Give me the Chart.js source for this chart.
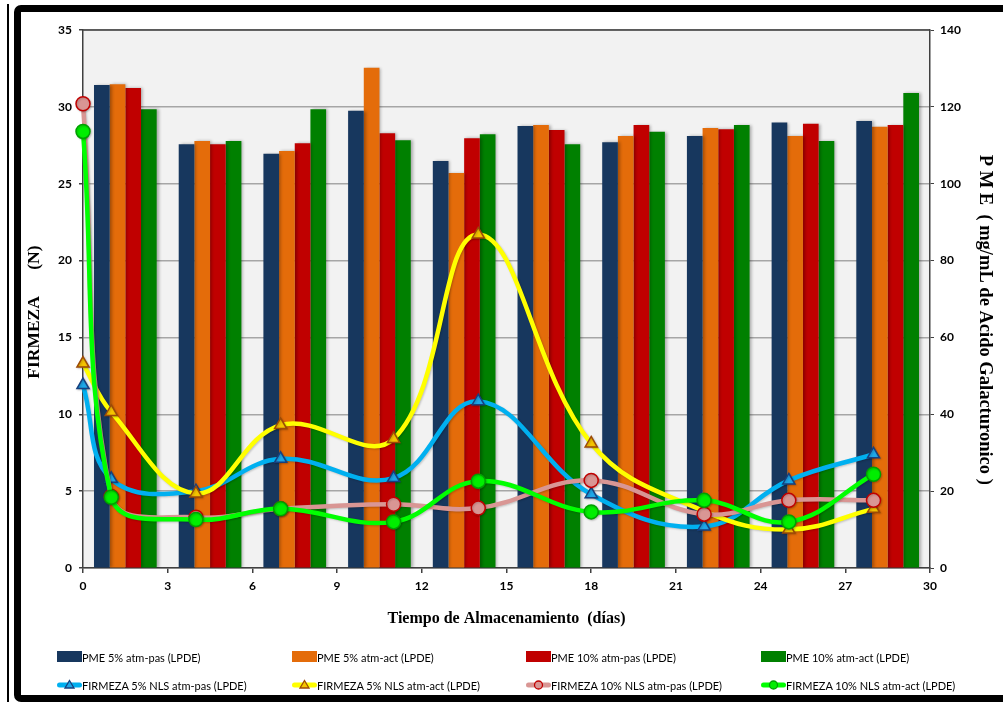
<!DOCTYPE html>
<html lang="es">
<head>
<meta charset="utf-8">
<title>Firmeza y PME</title>
<script src="https://cdn.jsdelivr.net/npm/chart.js@4.4.1/dist/chart.umd.min.js"></script>
<style>
  body { margin: 0; background: #fff; }
  #hoja { position: relative; width: 1003px; height: 702px; overflow: hidden; }
  #linea { position: absolute; left: 7px; top: 4px; width: 2px; height: 698px; background: #000; }
  #marco { position: absolute; left: 14px; top: 5px; width: 1010px; height: 683px;
           border: 7px solid #000; border-radius: 7px; }
  canvas { position: absolute; left: 0; top: 0; }
  .item { position: absolute; display: flex; align-items: center; height: 16px;
          font-family: Lato, sans-serif; font-size: 11px; color: #000; white-space: nowrap; }
  .item svg { display: block; }
</style>
</head>
<body>
<div id="hoja">
  <div id="linea"></div>
  <div id="marco"></div>
  <canvas id="barras" width="1003" height="702"></canvas>
  <canvas id="lineas" width="1003" height="702"></canvas>
  <div id="leyenda"></div>
</div>
<script>
// dias de muestreo (firmeza) y grupos de barras (PME)
const dias = [0, 1, 4, 7, 11, 14, 18, 22, 25, 28];
const muestreos = ['1', '2', '3', '4', '5', '6', '7', '8', '9', '10'];

// PME (mg/mL de acido galacturonico)
const pme5Pas  = [125.7, 110.3, 107.8, 119.0, 105.9, 115.0, 110.8, 112.4, 115.9, 116.3];
const pme5Act  = [125.9, 111.1, 108.5, 130.2, 102.8, 115.3, 112.4, 114.5, 112.4, 114.8];
const pme10Pas = [124.9, 110.3, 110.5, 113.1, 111.8, 114.0, 115.3, 114.2, 115.6, 115.3];
const pme10Act = [119.4, 111.1, 119.4, 111.3, 112.9, 110.3, 113.5, 115.3, 111.1, 123.6];

// Firmeza (N)
const fir5Pas  = [11.9, 5.8, 5.0, 7.1, 5.85, 10.85, 4.8, 2.7, 5.7, 7.4];
const fir5Act  = [13.3, 10.15, 4.85, 9.3, 8.4, 21.7, 8.1, 3.7, 2.5, 3.85];
const fir10Pas = [30.2, 4.65, 3.3, 3.85, 4.15, 3.9, 5.7, 3.5, 4.4, 4.4];
const fir10Act = [28.4, 4.6, 3.15, 3.85, 3.0, 5.65, 3.65, 4.4, 3.0, 6.1];

const fuenteEje = { family: 'Lato', size: 12, weight: 'bold' };
const fuenteTituloX = { family: 'Liberation Serif', size: 16, weight: 'bold' };
const fuenteTituloIzq = { family: 'Liberation Serif', size: 17.5, weight: 'bold' };
const fuenteTituloDer = { family: 'Liberation Serif', size: 18.5, weight: 'bold' };

// area de trazado comun a los dos lienzos
const area = { left: 83, right: 73, top: 30, bottom: 134 };

function barra(label, data, color) {
    return {
        type: 'bar', label: label, data: data,
        xAxisID: 'xb', yAxisID: 'y2',
        backgroundColor: color, borderWidth: 0,
        categoryPercentage: 0.74, barPercentage: 1.0
    };
}

function linea(label, data, color, forma, relleno, borde, orden) {
    return {
        type: 'line', label: label,
        data: dias.map((d, i) => ({ x: d, y: data[i] })),
        borderColor: color, borderWidth: 4.5, tension: 0.4,
        pointStyle: forma, pointRadius: 7,
        pointBackgroundColor: relleno, pointBorderColor: borde, pointBorderWidth: 1.5,
        clip: false, order: orden
    };
}

const seriesBarras = [
    barra('PME 5% atm-pas (LPDE)', pme5Pas, '#17375e'),
    barra('PME 5% atm-act (LPDE)', pme5Act, '#e46c0a'),
    barra('PME 10% atm-pas (LPDE)', pme10Pas, '#c00000'),
    barra('PME 10% atm-act (LPDE)', pme10Act, '#008000')
];

const seriesLineas = [
    linea('FIRMEZA 5% NLS atm-pas (LPDE)', fir5Pas, '#00b0f0', 'triangle', '#1ea7e8', '#17407f', 3),
    linea('FIRMEZA 5% NLS atm-act (LPDE)', fir5Act, '#ffff00', 'triangle', '#f5c400', '#9c4a06', 2),
    linea('FIRMEZA 10% NLS atm-pas (LPDE)', fir10Pas, '#d99694', 'circle', '#d99694', '#c00000', 1),
    linea('FIRMEZA 10% NLS atm-act (LPDE)', fir10Act, '#00ff00', 'circle', '#00ee00', '#00a000', 0)
];

// fondo gris del area de trazado y borde superior
const fondo = {
    id: 'fondo',
    beforeDraw(chart) {
        const { ctx, chartArea: a } = chart;
        ctx.save();
        ctx.fillStyle = '#f2f2f2';
        ctx.fillRect(a.left, a.top, a.right - a.left, a.bottom - a.top);
        ctx.restore();
    },
    beforeDatasetsDraw(chart) {
        const { ctx, chartArea: a } = chart;
        ctx.save();
        ctx.strokeStyle = '#404040';
        ctx.lineWidth = 1.5;
        ctx.beginPath();
        ctx.moveTo(a.left, a.top);
        ctx.lineTo(a.right, a.top);
        ctx.stroke();
        ctx.restore();
    }
};

// sombra ligera detras de barras y lineas
const sombra = {
    id: 'sombra',
    beforeDatasetDraw(chart, args) {
        const ctx = chart.ctx;
        ctx.save();
        if (chart.data.datasets[args.index].type === 'bar') {
            ctx.shadowColor = 'rgba(0,0,0,0.3)';
            ctx.shadowBlur = 3;
            ctx.shadowOffsetX = 2;
        } else {
            ctx.shadowColor = 'rgba(0,0,0,0.2)';
            ctx.shadowBlur = 2;
            ctx.shadowOffsetX = 1;
            ctx.shadowOffsetY = 1;
        }
    },
    afterDatasetDraw(chart) {
        chart.ctx.restore();
    }
};

// ejes, rejilla y barras de PME
const graficoBarras = new Chart(document.getElementById('barras'), {
    type: 'bar',
    data: { labels: muestreos, datasets: seriesBarras },
    plugins: [fondo, sombra],
    options: {
        responsive: false,
        animation: false,
        layout: { padding: { top: area.top, bottom: 62, left: 0, right: 0 } },
        plugins: { legend: { display: false }, tooltip: { enabled: false } },
        scales: {
            x: {
                type: 'linear', position: 'bottom', min: 0, max: 30, offset: false,
                ticks: { stepSize: 3, color: '#000', font: fuenteEje, padding: 6 },
                grid: { drawOnChartArea: false, offset: false, tickLength: 5, color: '#404040', lineWidth: 1.5 },
                border: { color: '#404040', width: 1.5 },
                title: { display: true, text: 'Tiempo de Almacenamiento  (días)', color: '#000',
                         font: fuenteTituloX, padding: { bottom: 12 } },
                afterFit(s) { s.height = 72; }
            },
            xb: { type: 'category', labels: muestreos, display: false, offset: true },
            y: {
                position: 'left', min: 0, max: 35,
                ticks: { stepSize: 5, color: '#000', font: fuenteEje, padding: 7 },
                grid: { color: '#a6a6a6', lineWidth: 1.5, tickLength: 4, tickColor: '#404040' },
                border: { color: '#404040', width: 1.5 },
                title: { display: true, text: 'FIRMEZA      (N)      ', color: '#000',
                         font: fuenteTituloIzq, padding: { top: 24 } },
                afterFit(s) { s.width = area.left; }
            },
            y2: {
                position: 'right', min: 0, max: 140,
                ticks: { stepSize: 20, color: '#000', font: fuenteEje, padding: 6 },
                grid: { drawOnChartArea: false, tickLength: 4, color: '#404040' },
                border: { color: '#404040', width: 1.5 },
                title: { display: true, text: '         P M E  ( mg/mL de Acido Galacturonico )', color: '#000',
                         font: fuenteTituloDer, padding: { top: 7 } },
                afterFit(s) { s.width = area.right; }
            }
        }
    }
});

// curvas de firmeza sobre las barras
const graficoLineas = new Chart(document.getElementById('lineas'), {
    type: 'line',
    data: { datasets: seriesLineas },
    plugins: [sombra],
    options: {
        responsive: false,
        animation: false,
        layout: { padding: area },
        plugins: { legend: { display: false }, tooltip: { enabled: false } },
        scales: {
            x: { type: 'linear', min: 0, max: 30, display: false },
            y: { min: 0, max: 35, display: false }
        }
    }
});

// leyenda en cuatro columnas, barras arriba y lineas abajo
const columnas = [57, 292, 526, 761];
const filas = [649, 677];
const caja = document.getElementById('leyenda');
seriesBarras.concat(seriesLineas).forEach((ds, i) => {
    const item = document.createElement('div');
    item.className = 'item';
    item.style.left = columnas[i % 4] + 'px';
    item.style.top = filas[Math.floor(i / 4)] + 'px';
    let svg;
    if (ds.type === 'bar') {
        svg = '<svg width="25" height="16"><rect x="0" y="2" width="25" height="11" fill="' + ds.backgroundColor + '"/></svg>';
    } else {
        let marca;
        if (ds.pointStyle === 'triangle') {
            marca = '<polygon points="12.5,3.5 17,11 8,11" fill="' + ds.pointBackgroundColor +
                    '" stroke="' + ds.pointBorderColor + '" stroke-width="1.3"/>';
        } else {
            marca = '<circle cx="12.5" cy="8" r="4" fill="' + ds.pointBackgroundColor +
                    '" stroke="' + ds.pointBorderColor + '" stroke-width="1.3"/>';
        }
        svg = '<svg width="25" height="16"><line x1="2.5" y1="8" x2="22.5" y2="8" stroke="' + ds.borderColor +
              '" stroke-width="5" stroke-linecap="round"/>' + marca + '</svg>';
    }
    item.innerHTML = svg + '<span>' + ds.label + '</span>';
    caja.appendChild(item);
});
</script>
</body>
</html>
